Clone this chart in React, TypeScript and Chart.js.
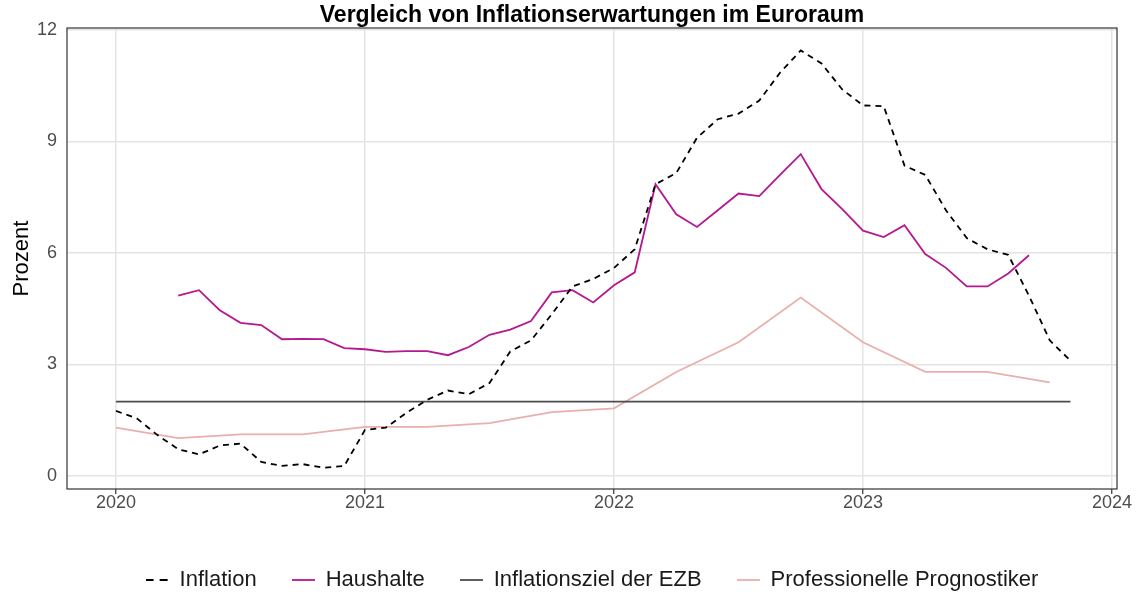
import React, { useEffect, useRef } from "react";
import { Chart, registerables } from "chart.js";

Chart.register(...registerables);

// ---------- data ----------
const START_YEAR = 2020;
const seriesLabels = [
  "Inflation",
  "Haushalte",
  "Inflationsziel der EZB",
  "Professionelle Prognostiker",
];

// Monthly inflation, Jan 2020 .. Nov 2023
const inflationStartMonth = 0;
const inflationValues = [
  1.75, 1.55, 1.1, 0.72, 0.58, 0.82, 0.87, 0.38, 0.27, 0.32, 0.22, 0.27,
  1.24, 1.3, 1.7, 2.05, 2.3, 2.2, 2.5, 3.35, 3.65, 4.35, 5.1, 5.3,
  5.6, 6.1, 7.85, 8.15, 9.1, 9.6, 9.75, 10.1, 10.85, 11.45, 11.1, 10.4,
  9.97, 9.95, 8.35, 8.1, 7.15, 6.4, 6.1, 5.95, 4.85, 3.65, 3.1,
];

// Monthly household expectations, Apr 2020 .. Sep 2023
const haushalteStartMonth = 3;
const haushalteValues = [
  4.85, 5.0, 4.46, 4.12, 4.06, 3.68, 3.69, 3.68, 3.44,
  3.41, 3.34, 3.36, 3.36, 3.25, 3.47, 3.8, 3.94, 4.17, 4.94, 5.0, 4.67,
  5.13, 5.48, 7.85, 7.04, 6.7, 7.15, 7.6, 7.53, 8.1, 8.66, 7.72, 7.18,
  6.6, 6.43, 6.75, 5.97, 5.6, 5.1, 5.1, 5.45, 5.94,
];

// Quarterly professional forecasters, Jan 2020 .. Oct 2023
const prognostikerStartMonth = 0;
const prognostikerStepMonths = 3;
const prognostikerValues = [
  1.3, 1.02, 1.12, 1.12, 1.32, 1.32, 1.42, 1.72, 1.82, 2.8, 3.6, 4.8, 3.6, 2.8,
  2.8, 2.52,
];

// ECB target
const ezbTargetValue = 2;
const ezbStartMonth = 0;
const ezbEndMonth = 46;

const yearTicks = [2020, 2021, 2022, 2023, 2024];
const percentTicks = [0, 3, 6, 9, 12];

const X_MIN = 2019.8032;
const X_MAX = 2024.0201;
const Y_MIN = -0.35;
const Y_MAX = 12.054;

const FONT = "'Liberation Sans', Arial, Helvetica, sans-serif";

const seriesStyles = [
  { color: "#000000", width: 1.8, dash: [6, 5], keyDash: [8, 6] },
  { color: "#B5188F", width: 1.8, dash: [] as number[], keyDash: [] as number[] },
  { color: "#4D4D4D", width: 1.8, dash: [] as number[], keyDash: [] as number[] },
  { color: "#E8B0AC", width: 1.8, dash: [] as number[], keyDash: [] as number[] },
];

const monthToX = (m: number) => START_YEAR + m / 12;
const toPoints = (values: number[], start: number, step = 1) =>
  values.map((v, i) => ({ x: monthToX(start + i * step), y: v }));

function makeKey(color: string, width: number, dash: number[]) {
  const c = document.createElement("canvas");
  c.width = 23;
  c.height = 6;
  const ctx = c.getContext("2d")!;
  ctx.strokeStyle = color;
  ctx.lineWidth = width;
  ctx.setLineDash(dash);
  ctx.beginPath();
  ctx.moveTo(0, 3);
  ctx.lineTo(23, 3);
  ctx.stroke();
  return c;
}

export default function App() {
  const ref = useRef<HTMLCanvasElement | null>(null);

  useEffect(() => {
    const canvas = ref.current;
    if (!canvas) return;
    Chart.defaults.font.family = FONT;

    const keys = seriesStyles.map((s) => makeKey(s.color, s.width, s.keyDash));

    const panelBorder = {
      id: "panelBorder",
      afterDraw(chart: any) {
        const { ctx, chartArea: a } = chart;
        ctx.save();
        ctx.strokeStyle = "#333333";
        ctx.lineWidth = 1.2;
        ctx.strokeRect(a.left, a.top, a.right - a.left, a.bottom - a.top);
        ctx.restore();
      },
    };

    const common = { pointRadius: 0, pointHoverRadius: 0, tension: 0, fill: false };
    const styleOf = (i: number) => ({
      borderColor: seriesStyles[i].color,
      backgroundColor: seriesStyles[i].color,
      borderWidth: seriesStyles[i].width,
      borderDash: seriesStyles[i].dash,
    });

    const chart = new Chart(canvas, {
      type: "line",
      data: {
        datasets: [
          {
            ...common,
            ...styleOf(0),
            label: seriesLabels[0],
            data: toPoints(inflationValues, inflationStartMonth),
          },
          {
            ...common,
            ...styleOf(1),
            label: seriesLabels[1],
            data: toPoints(haushalteValues, haushalteStartMonth),
          },
          {
            ...common,
            ...styleOf(2),
            label: seriesLabels[2],
            data: [
              { x: monthToX(ezbStartMonth), y: ezbTargetValue },
              { x: monthToX(ezbEndMonth), y: ezbTargetValue },
            ],
          },
          {
            ...common,
            ...styleOf(3),
            label: seriesLabels[3],
            data: toPoints(prognostikerValues, prognostikerStartMonth, prognostikerStepMonths),
          },
        ],
      },
      options: {
        responsive: false,
        animation: false,
        devicePixelRatio: 1,
        layout: { padding: { left: 0, right: 19, top: 0, bottom: -6 } },
        scales: {
          x: {
            type: "linear",
            min: X_MIN,
            max: X_MAX,
            bounds: "data",
            afterBuildTicks: (s: any) => {
              s.ticks = yearTicks.map((v) => ({ value: v }));
            },
            afterFit: (s: any) => {
              s.height = 45;
            },
            ticks: {
              callback: (v: any) => String(v),
              color: "#4D4D4D",
              font: { size: 18, lineHeight: 1 },
              padding: 0,
              maxRotation: 0,
              autoSkip: false,
            },
            grid: {
              color: "#E4E4E4",
              lineWidth: 1.5,
              drawTicks: true,
              tickLength: 5,
              tickColor: "#333333",
              tickWidth: 1.2,
            },
            border: { display: false },
          },
          y: {
            type: "linear",
            min: Y_MIN,
            max: Y_MAX,
            bounds: "data",
            afterBuildTicks: (s: any) => {
              s.ticks = percentTicks.map((v) => ({ value: v }));
            },
            afterFit: (s: any) => {
              s.width = 67;
            },
            ticks: {
              callback: (v: any) => String(v),
              color: "#4D4D4D",
              font: { size: 18 },
              padding: 10,
            },
            grid: {
              color: "#E4E4E4",
              lineWidth: 1.5,
              drawTicks: false,
            },
            border: { display: false },
            title: {
              display: true,
              text: "Prozent",
              color: "#000000",
              font: { size: 22, lineHeight: 1.2 },
              padding: { top: 9, bottom: 0 },
            },
          },
        },
        plugins: {
          tooltip: { enabled: false },
          title: {
            display: true,
            text: "Vergleich von Inflationserwartungen im Euroraum",
            color: "#000000",
            font: { size: 23, weight: "bold", lineHeight: 1 },
            padding: { top: 4, bottom: 1 },
            fullSize: false,
          },
          legend: {
            display: true,
            position: "bottom",
            fullSize: false,
            labels: {
              usePointStyle: true,
              pointStyleWidth: 23,
              padding: 35,
              color: "#1A1A1A",
              font: { size: 22 },
              generateLabels: (ch: any) =>
                Chart.defaults.plugins.legend.labels
                  .generateLabels(ch)
                  .map((item: any, i: number) => ({ ...item, pointStyle: keys[i] })),
            },
          },
        },
      } as any,
      plugins: [panelBorder],
    });

    return () => chart.destroy();
  }, []);

  return (
    <div style={{ position: "fixed", left: 0, top: 0, width: 1136, height: 595, background: "#fff" }}>
      <canvas ref={ref} width={1136} height={595} style={{ display: "block" }} />
    </div>
  );
}
